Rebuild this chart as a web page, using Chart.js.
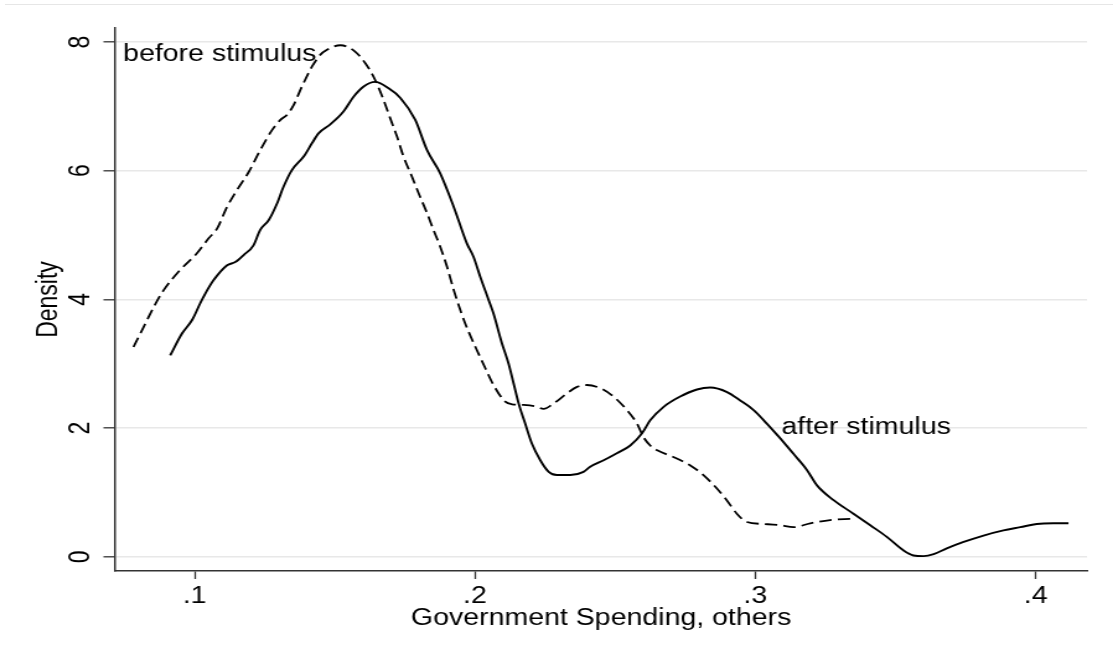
<!DOCTYPE html>
<html>
<head>
<meta charset="utf-8">
<title>Government Spending density</title>
<script src="https://cdn.jsdelivr.net/npm/chart.js@4"></script>
<style>
  html, body { margin: 0; padding: 0; background: #fff; overflow: hidden; }
  #page { position: relative; width: 1113px; height: 655px; overflow: hidden; background: #fff; }
  #rule { position: absolute; left: 5px; right: 0; top: 4px; height: 1px; background: #e6e6e6; }
  /* the plot is laid out on a 898px canvas and widened to the full page */
  #wrap { position: absolute; left: 0; top: 0; width: 898px; height: 655px;
          transform: scaleX(1.23942); transform-origin: 0 0; }
  canvas { display: block; }
</style>
</head>
<body>
<div id="page">
  <div id="rule"></div>
  <div id="wrap"><canvas id="chart" width="898" height="655"></canvas></div>
</div>
<script>
// Kernel density of government spending share, before the stimulus (dashed)
const beforeX = [0.0782, 0.0818, 0.0854, 0.0889, 0.0949, 0.1009, 0.1050, 0.1080, 0.1116, 0.1151,
                 0.1193, 0.1234, 0.1276, 0.1306, 0.1330, 0.1353, 0.1383, 0.1419, 0.1448, 0.1472,
                 0.1520, 0.1567, 0.1609, 0.1644, 0.1674, 0.1698, 0.1722, 0.1745, 0.1775, 0.1799,
                 0.1829, 0.1852, 0.1876, 0.1900, 0.1924, 0.1952, 0.1977, 0.2007, 0.2037, 0.2066,
                 0.2108, 0.2132, 0.2173, 0.2215, 0.2245, 0.2280, 0.2328, 0.2364, 0.2399, 0.2447,
                 0.2494, 0.2542, 0.2578, 0.2601, 0.2625, 0.2652, 0.2708, 0.2768, 0.2815, 0.2863,
                 0.2898, 0.2934, 0.2970, 0.3029, 0.3089, 0.3136, 0.3196, 0.3267, 0.3338, 0.3356];
const beforeY = [3.26, 3.57, 3.88, 4.14, 4.46, 4.72, 4.95, 5.10, 5.44, 5.70,
                 5.98, 6.32, 6.63, 6.79, 6.87, 7.02, 7.31, 7.62, 7.80, 7.88,
                 7.95, 7.87, 7.67, 7.41, 7.10, 6.81, 6.53, 6.22, 5.91, 5.65,
                 5.34, 5.08, 4.82, 4.51, 4.15, 3.78, 3.50, 3.21, 2.93, 2.67,
                 2.41, 2.37, 2.36, 2.34, 2.30, 2.38, 2.54, 2.64, 2.67, 2.62,
                 2.49, 2.28, 2.07, 1.86, 1.73, 1.65, 1.55, 1.42, 1.27, 1.06,
                 0.88, 0.67, 0.54, 0.51, 0.49, 0.46, 0.52, 0.57, 0.59, 0.59];

// ... and after the stimulus (solid)
const afterX = [0.0913, 0.0955, 0.0991, 0.1020, 0.1038, 0.1068, 0.1116, 0.1145, 0.1175, 0.1210,
                0.1234, 0.1264, 0.1294, 0.1317, 0.1347, 0.1389, 0.1419, 0.1442, 0.1484, 0.1531,
                0.1567, 0.1603, 0.1644, 0.1692, 0.1734, 0.1787, 0.1829, 0.1876, 0.1924, 0.1971,
                0.1995, 0.2019, 0.2048, 0.2066, 0.2096, 0.2120, 0.2138, 0.2156, 0.2179, 0.2203,
                0.2233, 0.2263, 0.2292, 0.2340, 0.2387, 0.2411, 0.2459, 0.2506, 0.2554, 0.2596,
                0.2625, 0.2673, 0.2732, 0.2792, 0.2839, 0.2899, 0.2946, 0.2994, 0.3041, 0.3089,
                0.3136, 0.3184, 0.3220, 0.3279, 0.3350, 0.3410, 0.3469, 0.3528, 0.3564, 0.3600,
                0.3636, 0.3683, 0.3743, 0.3814, 0.3885, 0.3945, 0.4004, 0.4063, 0.4117];
const afterY = [3.13, 3.47, 3.68, 3.94, 4.09, 4.30, 4.53, 4.58, 4.69, 4.84,
                5.08, 5.23, 5.49, 5.75, 6.01, 6.22, 6.43, 6.58, 6.72, 6.92,
                7.15, 7.31, 7.38, 7.28, 7.13, 6.79, 6.32, 5.96, 5.44, 4.87,
                4.66, 4.35, 4.00, 3.78, 3.32, 3.00, 2.69, 2.38, 2.07, 1.76,
                1.50, 1.32, 1.27, 1.27, 1.32, 1.40, 1.50, 1.61, 1.73, 1.92,
                2.12, 2.33, 2.49, 2.60, 2.63, 2.56, 2.43, 2.28, 2.07, 1.84,
                1.60, 1.35, 1.11, 0.88, 0.67, 0.49, 0.31, 0.10, 0.02, 0.01,
                0.04, 0.13, 0.23, 0.33, 0.41, 0.46, 0.51, 0.52, 0.52];

// Axis ticks and titles
const xTickValues = [0.1, 0.2, 0.3, 0.4];
const xTickLabels = ['.1', '.2', '.3', '.4'];
const yTickValues = [0, 2, 4, 6, 8];
const yTickLabels = ['0', '2', '4', '6', '8'];
const xTitle = 'Government Spending, others';
const yTitle = 'Density';

// In-plot curve labels (data coordinates of the text's left/middle point)
const noteTexts = ['before stimulus', 'after stimulus'];
const noteX = [0.0745, 0.3093];
const noteY = [7.8, 2.0];

const FONT_FAMILY = '"Liberation Sans", Arial, Helvetica, sans-serif';
const FONT_SIZE = 23;
const INK = '#000000';
const AXIS = '#333333';

function toPoints(xs, ys) {
  return xs.map((x, i) => ({ x: x, y: ys[i] }));
}

const curveLabels = {
  id: 'curveLabels',
  afterDatasetsDraw(chart) {
    const { ctx, scales } = chart;
    ctx.save();
    ctx.font = FONT_SIZE + 'px ' + FONT_FAMILY;
    ctx.fillStyle = INK;
    ctx.textAlign = 'left';
    ctx.textBaseline = 'middle';
    noteTexts.forEach((t, i) => {
      ctx.fillText(t, scales.x.getPixelForValue(noteX[i]), scales.y.getPixelForValue(noteY[i]));
    });
    ctx.restore();
  }
};

Chart.defaults.font.family = FONT_FAMILY;
Chart.defaults.font.size = FONT_SIZE;
Chart.defaults.color = INK;

new Chart(document.getElementById('chart'), {
  type: 'line',
  data: {
    datasets: [
      {
        label: 'before stimulus',
        data: toPoints(beforeX, beforeY),
        borderColor: INK,
        borderWidth: 1.8,
        borderDash: [10, 5],
        pointRadius: 0,
        fill: false,
        cubicInterpolationMode: 'monotone'
      },
      {
        label: 'after stimulus',
        data: toPoints(afterX, afterY),
        borderColor: INK,
        borderWidth: 1.9,
        pointRadius: 0,
        fill: false,
        cubicInterpolationMode: 'monotone'
      }
    ]
  },
  options: {
    responsive: false,
    animation: false,
    events: [],
    layout: { padding: { left: 0, top: 28, right: 21, bottom: 0 } },
    plugins: { legend: { display: false }, tooltip: { enabled: false } },
    scales: {
      x: {
        type: 'linear',
        min: 0.0717,
        max: 0.4183,
        afterFit(scale) { scale.height = 84; },
        afterBuildTicks(scale) { scale.ticks = xTickValues.map(v => ({ value: v })); },
        grid: { drawOnChartArea: false, drawTicks: true, tickLength: 8, tickColor: AXIS, tickWidth: 1.3 },
        border: { display: true, color: AXIS, width: 1.5 },
        ticks: {
          autoSkip: false, maxRotation: 0, minRotation: 0, padding: 4, color: INK,
          font: { size: FONT_SIZE },
          callback: (v, i) => xTickLabels[i]
        },
        title: {
          display: true, text: xTitle, color: INK,
          font: { size: FONT_SIZE, lineHeight: 1.2 },
          padding: { top: 0, bottom: 22.5 }
        }
      },
      y: {
        type: 'linear',
        min: -0.221,
        max: 8.218,
        afterFit(scale) { scale.width = 93; },
        afterBuildTicks(scale) { scale.ticks = yTickValues.map(v => ({ value: v })); },
        grid: { color: '#e8e8e8', lineWidth: 1.6, drawTicks: true, tickLength: 9.5, tickColor: AXIS, tickWidth: 1.3 },
        border: { display: true, color: AXIS, width: 1.5 },
        ticks: {
          autoSkip: false, minRotation: 90, maxRotation: 90, crossAlign: 'center', padding: 11.7, color: INK,
          font: { size: FONT_SIZE },
          callback: (v, i) => yTickLabels[i]
        },
        title: {
          display: true, text: yTitle, color: INK,
          font: { size: FONT_SIZE, lineHeight: 1.2 },
          padding: { top: 25.5, bottom: 0 }
        }
      }
    }
  },
  plugins: [curveLabels]
});
</script>
</body>
</html>
